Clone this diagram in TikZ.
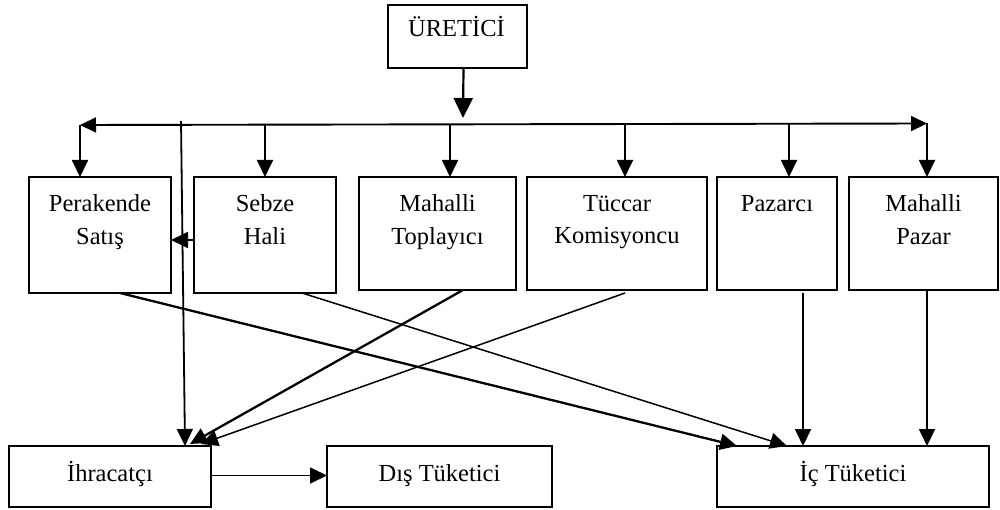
\documentclass[tikz,border=0pt]{standalone}
\usepackage{fontspec}
\setmainfont{Liberation Serif}
\usetikzlibrary{arrows.meta}
\tikzset{
  box/.style={draw=black, line width=1.8pt, inner sep=0pt, outer sep=0pt, anchor=north west},
  lbl/.style={font=\fontsize{24.5}{32.5}\selectfont, align=center, inner sep=0pt, outer sep=0pt},
  tip/.style={-{Triangle[length=17pt,width=16pt]}},
  arr/.style={tip, line width=1.8pt},
  arrthick/.style={tip, line width=2.3pt},
  arrthin/.style={tip, line width=1.5pt}
}
\begin{document}
\begin{tikzpicture}[x=1pt,y=-1pt]
\useasboundingbox (0,0) rectangle (1000,510);
% top box
\node[box, minimum width=139pt, minimum height=63pt] (ure) at (388,5) {};
\node[lbl, anchor=base] (ture) at (456.5,37) {ÜRETİCİ};
% middle boxes
\node[box, minimum width=142pt, minimum height=116pt] (pera) at (29,177) {};
\node[box, minimum width=142pt, minimum height=116pt] (sebze) at (194,177) {};
\node[box, minimum width=157pt, minimum height=113pt] (mt) at (359,177) {};
\node[box, minimum width=180pt, minimum height=113pt] (tuc) at (527,177) {};
\node[box, minimum width=120pt, minimum height=113pt] (paz) at (717,177) {};
\node[box, minimum width=149pt, minimum height=113pt] (mp) at (849,177) {};
\node[lbl, anchor=north] (tpera) at (100,195) {Perakende\\Satış};
\node[lbl, anchor=north] (tsebze) at (265,195) {Sebze\\Hali};
\node[lbl, anchor=north] (tmt) at (437.5,195) {Mahalli\\Toplayıcı};
\node[lbl, anchor=north] (ttuc) at (617,195) {Tüccar\\Komisyoncu};
\node[lbl, anchor=north] (tpaz) at (777,195) {Pazarcı};
\node[lbl, anchor=north] (tmp) at (923.5,195) {Mahalli\\Pazar};
% bottom boxes
\node[box, minimum width=202pt, minimum height=61pt] (ihr) at (9,446) {};
\node[box, minimum width=225pt, minimum height=61pt] (dis) at (327,446) {};
\node[box, minimum width=272pt, minimum height=61pt] (ic) at (717,446) {};
\node[lbl, anchor=base] (tihr) at (110,481) {İhracatçı};
\node[lbl, anchor=base] (tdis) at (439.5,481) {Dış Tüketici};
\node[lbl, anchor=base] (tic) at (853,481) {İç Tüketici};
% distribution line
\coordinate (hub) at (463,124);
\coordinate (L) at (80,125);
\coordinate (R) at (927,123.5);
\coordinate (s1) at (265,124);
\coordinate (s2) at (450,124);
\coordinate (s3) at (625,124);
\coordinate (s4) at (789,124);
\coordinate (v0) at (181,121);
\draw[line width=2.2pt, -{Triangle[length=20pt,width=19pt]}] ([xshift=6pt]ure.south) -- ([yshift=6pt]hub);
\draw[line width=1.9pt, {Triangle[length=16pt,width=15pt]}-{Triangle[length=16pt,width=15pt]}] (L) -- (R);
\draw[arr] (L) -- (L |- pera.north);
\draw[arr] (s1) -- (s1 |- sebze.north);
\draw[arr] (s2) -- (s2 |- mt.north);
\draw[arr] (s3) -- (s3 |- tuc.north);
\draw[arr] (s4) -- (s4 |- paz.north);
\draw[arr] (R) -- (R |- mp.north);
% long vertical to exporter
\draw[arr] (v0) -- ([xshift=176pt]ihr.north west);
% sebze -> perakende
\draw[arr] ([yshift=-5pt]sebze.west) -- ([yshift=-5pt]pera.east);
% diagonals
\draw[arrthick] ([xshift=91pt]pera.south west) -- ([xshift=20pt]ic.north west);
\draw[arrthin] ([xshift=108pt]sebze.south west) -- ([xshift=70pt]ic.north west);
\draw[arrthick] ([xshift=104pt]mt.south west) -- ([xshift=181pt,yshift=2pt]ihr.north west);
\draw[arrthin] ([xshift=8pt,yshift=-3pt]tuc.south) -- ([xshift=192pt,yshift=2pt]ihr.north west);
% verticals to domestic consumer
\draw[arr] ([xshift=26pt,yshift=-3pt]paz.south) -- ([xshift=86pt]ic.north west);
\draw[arr] (R |- mp.south) -- (R |- ic.north);
% exporter -> foreign consumer
\draw[arr] ([yshift=1pt]ihr.east) -- ([yshift=1pt]dis.west);
\end{tikzpicture}
\end{document}
